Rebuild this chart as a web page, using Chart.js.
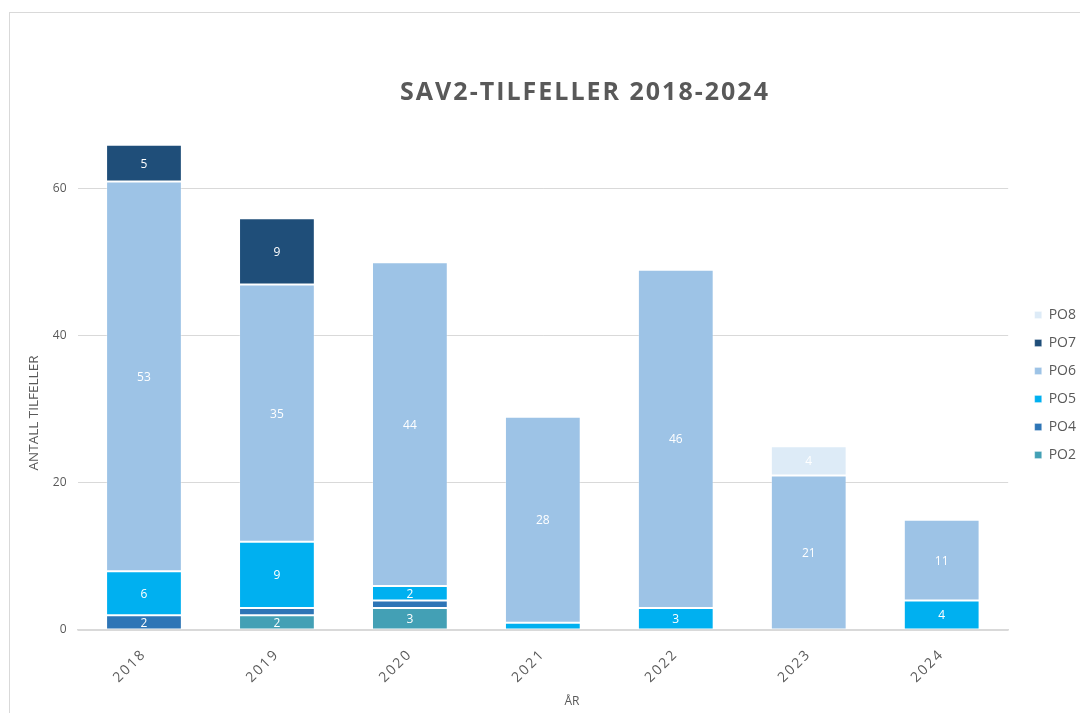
<!DOCTYPE html>
<html>
<head>
<meta charset="utf-8">
<script src="https://cdn.jsdelivr.net/npm/chart.js@4.4.1/dist/chart.umd.min.js"></script>
<style>
  html, body { margin: 0; padding: 0; background: #ffffff; }
  #wrap { position: relative; width: 1080px; height: 713px; overflow: hidden; }
  canvas { display: block; }
</style>
</head>
<body>
<div id="wrap"><canvas id="c" width="1080" height="713"></canvas></div>
<script>
// ---- data ----
const years = ['2018', '2019', '2020', '2021', '2022', '2023', '2024'];
const po2 = [null, 2, 3, null, null, null, null];
const po4 = [2, 1, 1, null, null, null, null];
const po5 = [6, 9, 2, 1, 3, null, 4];
const po6 = [53, 35, 44, 28, 46, 21, 11];
const po7 = [5, 9, null, null, null, null, null];
const po8 = [null, null, null, null, null, 4, null];
const yTicks = [0, 20, 40, 60];
const chartTitle = 'SAV2-TILFELLER 2018-2024';
const yTitle = 'ANTALL TILFELLER';
const xTitle = 'ÅR';

const TXT = '#595959';
const FONT = '"Open Sans", "Noto Sans", sans-serif';

function ds(label, data, color) {
  return {
    label, data,
    backgroundColor: color,
    borderColor: 'rgba(255,255,255,0.28)',
    borderWidth: 1,
    borderSkipped: false,
    categoryPercentage: 1.0,
    barPercentage: 0.57
  };
}

const decor = {
  id: 'decor',
  beforeDraw(chart) {
    const ctx = chart.ctx;
    ctx.save();
    ctx.fillStyle = '#ffffff';
    ctx.fillRect(0, 0, chart.width, chart.height);
    ctx.strokeStyle = '#d9d9d9';
    ctx.lineWidth = 1;
    ctx.strokeRect(9.5, 12.5, 1300, 900);
    ctx.restore();
    const xs = chart.scales.x;
    if (xs && !xs._wrapped) {
      const orig = xs.drawLabels.bind(xs);
      xs.drawLabels = function (area) {
        const c = this.ctx;
        c.save();
        c.letterSpacing = '2px';
        orig(area);
        c.restore();
      };
      xs._wrapped = true;
    }
  },
  afterDatasetsDraw(chart) {
    const ctx = chart.ctx;
    ctx.save();
    ctx.fillStyle = '#ffffff';
    ctx.font = '12px ' + FONT;
    ctx.textAlign = 'center';
    ctx.textBaseline = 'middle';
    chart.data.datasets.forEach((d, i) => {
      const meta = chart.getDatasetMeta(i);
      meta.data.forEach((el, j) => {
        const v = d.data[j];
        if (v == null || v < 2) return;
        const y = (el.y + el.base) / 2;
        ctx.fillText(String(v), el.x, y + 1);
      });
    });
    ctx.restore();
  },
  afterDraw(chart) {
    const ctx = chart.ctx;
    ctx.save();
    ctx.fillStyle = TXT;
    ctx.textAlign = 'center';
    ctx.textBaseline = 'middle';
    ctx.font = 'bold 25px ' + FONT;
    ctx.letterSpacing = '2px';
    ctx.fillText(chartTitle, 585, 93);
    ctx.letterSpacing = '0px';
    ctx.font = '12px ' + FONT;
    ctx.fillText(xTitle, 572, 702);
    ctx.font = '13.5px ' + FONT;
    ctx.translate(34, 413);
    ctx.rotate(-Math.PI / 2);
    ctx.fillText(yTitle, 0, 0);
    ctx.restore();
  }
};

new Chart(document.getElementById('c'), {
  type: 'bar',
  data: {
    labels: years,
    datasets: [
      ds('PO2', po2, '#43A0B5'),
      ds('PO4', po4, '#2E75B6'),
      ds('PO5', po5, '#00B0F0'),
      ds('PO6', po6, '#9DC3E6'),
      ds('PO7', po7, '#1F4E79'),
      ds('PO8', po8, '#DDEBF7')
    ]
  },
  options: {
    responsive: false,
    animation: false,
    layout: { padding: { top: 130, left: 0, right: -6, bottom: 0 } },
    plugins: {
      title: { display: false },
      tooltip: { enabled: false },
      legend: {
        display: true,
        position: 'right',
        fullSize: false,
        reverse: true,
        title: { display: true, text: ' ', font: { size: 8, lineHeight: 1.25 }, padding: 0 },
        labels: {
          boxWidth: 7,
          boxHeight: 7,
          padding: 14,
          color: TXT,
          font: { family: FONT, size: 14 }
        }
      }
    },
    scales: {
      x: {
        stacked: true,
        grid: { display: false },
        border: { display: true, color: '#d9d9d9', width: 1.5 },
        ticks: {
          color: TXT,
          font: { family: FONT, size: 14 },
          maxRotation: 45,
          minRotation: 45,
          padding: 8
        },
        afterFit(s) { s.height = 83; }
      },
      y: {
        stacked: true,
        min: 0,
        max: 68,
        grid: { color: '#d9d9d9', lineWidth: 1, drawTicks: false },
        border: { display: false },
        ticks: {
          stepSize: 20,
          color: TXT,
          font: { family: FONT, size: 12 },
          padding: 11
        },
        afterBuildTicks(s) { s.ticks = yTicks.map(v => ({ value: v })); },
        afterFit(s) { s.width = 77.5; }
      },
      y2: {
        position: 'right',
        display: true,
        grid: { display: false },
        border: { display: false },
        ticks: { display: false },
        afterFit(s) { s.width = 12.5; }
      }
    }
  },
  plugins: [decor]
});
</script>
</body>
</html>
